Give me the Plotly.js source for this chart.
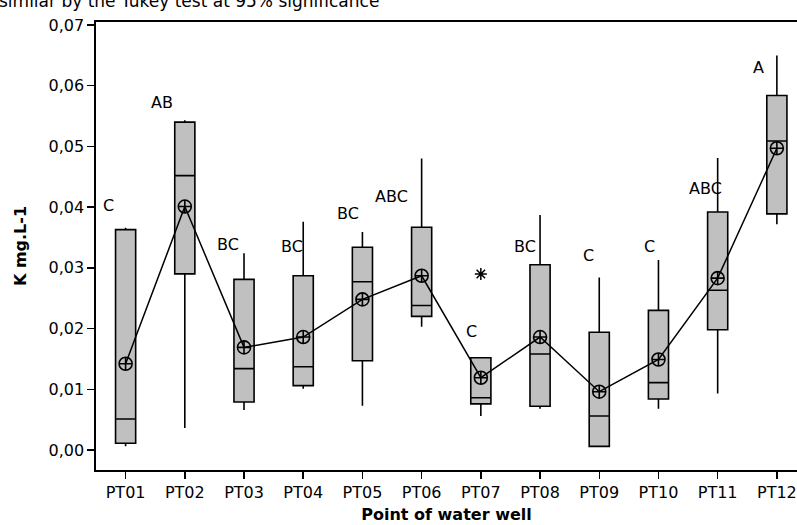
<!DOCTYPE html>
<html>
<head>
<meta charset="utf-8">
<script src="https://cdn.plot.ly/plotly-3.0.1.min.js"></script>
<style>html,body{margin:0;padding:0;background:#fff;}#chart{width:797px;height:525px;}</style>
</head>
<body>
<div id="chart"></div>
<script>
// ---- data ----
const wells = ["PT01","PT02","PT03","PT04","PT05","PT06","PT07","PT08","PT09","PT10","PT11","PT12"];
const minVal  = [0.0006, 0.0036, 0.0066, 0.0101, 0.0073, 0.0203, 0.0056, 0.0068, 0.0006, 0.0068, 0.0093, 0.0372];
const q1Val   = [0.0011, 0.0290, 0.0079, 0.0106, 0.0147, 0.0220, 0.0076, 0.0072, 0.0006, 0.0084, 0.0198, 0.0389];
const medVal  = [0.0051, 0.0452, 0.0134, 0.0137, 0.0277, 0.0238, 0.0086, 0.0158, 0.0056, 0.0111, 0.0263, 0.0509];
const q3Val   = [0.0363, 0.0540, 0.0281, 0.0287, 0.0334, 0.0367, 0.0152, 0.0305, 0.0194, 0.0230, 0.0392, 0.0584];
const maxVal  = [0.0366, 0.0543, 0.0324, 0.0376, 0.0359, 0.0480, 0.0152, 0.0387, 0.0284, 0.0313, 0.0481, 0.0650];
const meanVal = [0.0142, 0.0401, 0.0169, 0.0186, 0.0248, 0.0287, 0.0119, 0.0186, 0.0096, 0.0149, 0.0283, 0.0497];
const outlierWell = ["PT07"];
const outlierVal = [0.0290];
const groupLetters = ["C","AB","BC","BC","BC","ABC","C","BC","C","C","ABC","A"];
const letterHeight = [0.0402, 0.0573, 0.0339, 0.0336, 0.0390, 0.0417, 0.0195, 0.0336, 0.0321, 0.0336, 0.0430, 0.0630];
const yTicks = [0, 0.01, 0.02, 0.03, 0.04, 0.05, 0.06, 0.07];
const headerText = "similar by the Tukey test at 95% significance";

// ---- presentation ----
const letterShiftPx = [-17, -23, -16, -11, -14, -30, -9, -15, -11, -9, -12, -18];
const FONT = "DejaVu Sans, Verdana, sans-serif";

const boxTrace = {
  type: "box",
  x: wells,
  q1: q1Val, median: medVal, q3: q3Val,
  lowerfence: minVal, upperfence: maxVal,
  fillcolor: "#c0c0c0",
  line: {color: "#000", width: 1.6},
  whiskerwidth: 0,
  width: 0.34,
  boxpoints: false,
  hoverinfo: "skip",
  showlegend: false
};
const meanTrace = {
  type: "scatter", mode: "lines+markers",
  x: wells, y: meanVal,
  line: {color: "#000", width: 1.5},
  marker: {symbol: "circle-cross-open", size: 13, color: "#000", line: {width: 1.6, color: "#000"}},
  showlegend: false, hoverinfo: "skip"
};
const outTrace = {
  type: "scatter", mode: "markers",
  x: outlierWell, y: outlierVal,
  marker: {symbol: "asterisk-open", size: 10, color: "#000", line: {width: 1.5, color: "#000"}},
  showlegend: false, hoverinfo: "skip"
};

const annotations = groupLetters.map((t, i) => ({
  x: wells[i], y: letterHeight[i], xref: "x", yref: "y",
  text: t, showarrow: false, xshift: letterShiftPx[i],
  xanchor: "center", yanchor: "middle",
  font: {family: FONT, size: 16, color: "#000"}
}));
annotations.push({
  xref: "paper", yref: "paper", x: -0.141, y: 1.0, yshift: 9,
  xanchor: "left", yanchor: "bottom",
  text: headerText,
  showarrow: false, font: {family: FONT, size: 17, color: "#000"}
});

const layout = {
  width: 797, height: 525,
  margin: {l: 96, r: 0, t: 22, b: 55},
  paper_bgcolor: "#fff", plot_bgcolor: "#fff",
  separators: ",.",
  font: {family: FONT, size: 16, color: "#000"},
  showlegend: false,
  xaxis: {
    type: "category", categoryorder: "array", categoryarray: wells,
    range: [-0.50, 11.34],
    showline: true, linecolor: "#000", linewidth: 1.6, mirror: true,
    ticks: "outside", ticklen: 7, tickwidth: 1.5, tickcolor: "#000",
    showgrid: false, zeroline: false,
    tickfont: {family: FONT, size: 16},
    title: {text: "<b>Point of water well</b>", font: {family: FONT, size: 16}, standoff: 8}
  },
  yaxis: {
    range: [-0.0033, 0.0705],
    tickvals: yTicks,
    tickformat: ".2f",
    showline: true, linecolor: "#000", linewidth: 1.6, mirror: false,
    ticks: "outside", ticklen: 7, tickwidth: 1.5, tickcolor: "#000",
    showgrid: false, zeroline: false,
    tickfont: {family: FONT, size: 16},
    title: {text: "<b>K mg.L-1</b>", font: {family: FONT, size: 16}, standoff: 18}
  },
  annotations: annotations
};

Plotly.newPlot("chart", [boxTrace, meanTrace, outTrace], layout, {staticPlot: true, displayModeBar: false});
</script>
</body>
</html>
